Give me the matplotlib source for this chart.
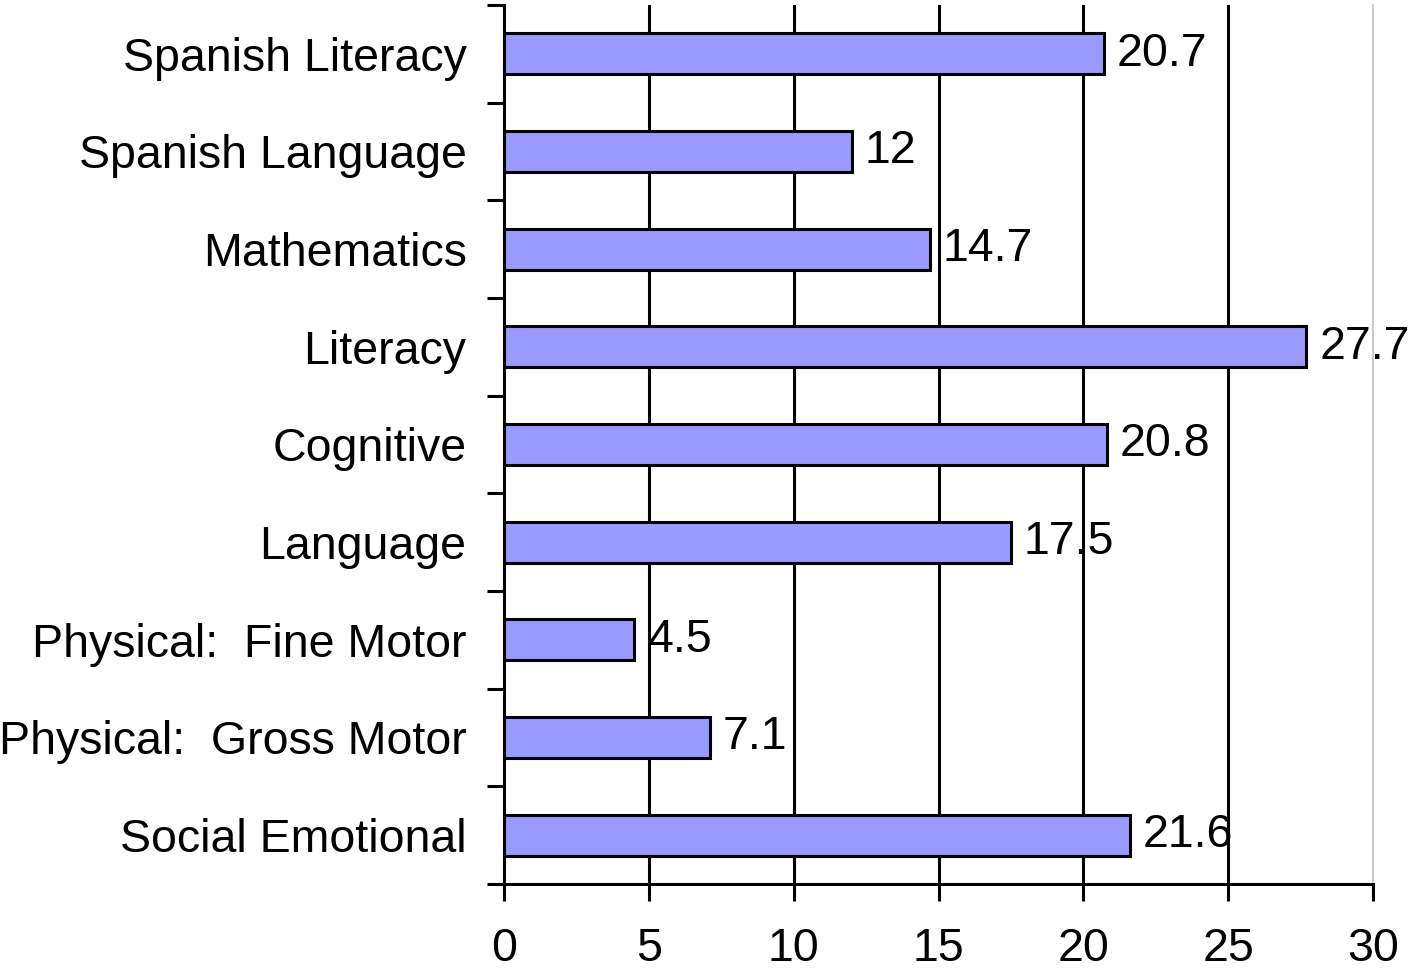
import matplotlib.pyplot as plt
import numpy as np

plt.rcParams['font.family'] = ['Liberation Sans', 'DejaVu Sans']

categories = ['Social Emotional', 'Physical:  Gross Motor', 'Physical:  Fine Motor',
              'Language', 'Cognitive', 'Literacy', 'Mathematics',
              'Spanish Language', 'Spanish Literacy']
values = [21.6, 7.1, 4.5, 17.5, 20.8, 27.7, 14.7, 12, 20.7]
value_labels = ['21.6', '7.1', '4.5', '17.5', '20.8', '27.7', '14.7', '12', '20.7']
xticks = [0, 5, 10, 15, 20, 25, 30]

fs = 33.5

fig = plt.figure(figsize=(14.16, 9.73), dpi=100)
ax = fig.add_axes([0.356, 0.0915, 0.9696 - 0.356, 0.9949 - 0.0915])

y = np.arange(len(categories))
ax.set_axisbelow(True)
for xv in xticks[1:-1]:
    ax.axvline(xv, color='black', lw=2.2, zorder=0)

ax.barh(y, values, height=0.42, color='#9999ff', edgecolor='black', linewidth=2.2, zorder=2)

for yi, v, lab in zip(y, values, value_labels):
    ax.text(v + 0.45, yi, lab, va='center', ha='left', fontsize=fs, zorder=3)

ax.set_xlim(0, 30)
ax.set_ylim(-0.5, len(categories) - 0.5)
ax.set_xticks(xticks)
ax.set_xticklabels([str(t) for t in xticks], fontsize=fs)
ax.set_yticks(y)
ax.set_yticklabels(categories, fontsize=fs)
ax.set_yticks(np.arange(len(categories) + 1) - 0.5, minor=True)

ax.tick_params(axis='y', which='major', length=0, pad=27)
ax.tick_params(axis='y', which='minor', length=12, width=2.2, direction='out')
ax.tick_params(axis='x', which='major', length=12, width=2.2, direction='out', pad=19)

ax.spines['top'].set_visible(False)
ax.spines['left'].set_linewidth(2.2)
ax.spines['bottom'].set_linewidth(2.2)
ax.spines['right'].set_color('#c0c0c0')
ax.spines['right'].set_linewidth(1.2)

fig.savefig('out.png', dpi=100)
